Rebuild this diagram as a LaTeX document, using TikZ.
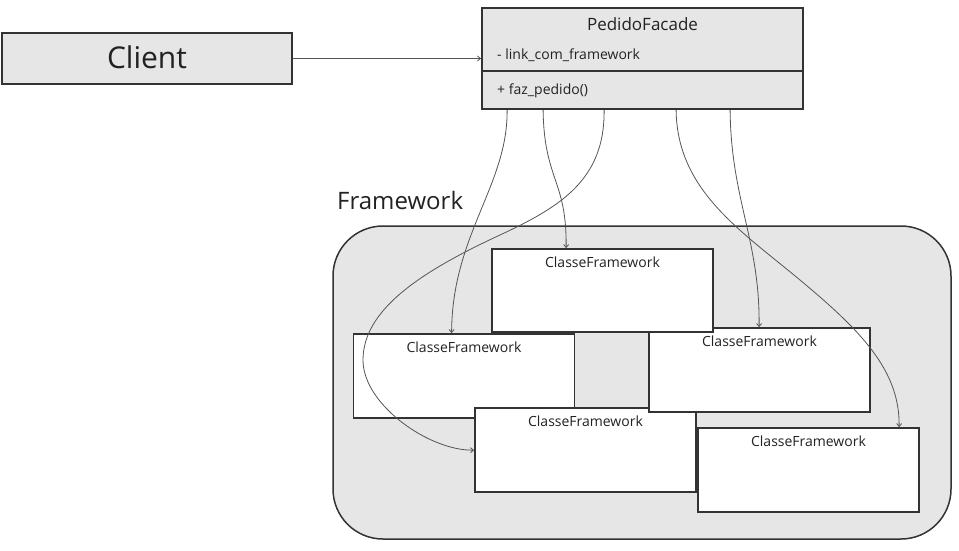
\documentclass[tikz,border=0pt]{standalone}
\usepackage{fontspec}
\setmainfont{Open Sans}
\usetikzlibrary{arrows.meta}
\definecolor{boxfill}{HTML}{E6E6E6}
\definecolor{edge}{HTML}{333333}
\definecolor{wire}{HTML}{555555}
\definecolor{ink}{HTML}{222222}
\tikzset{
  graybox/.style={draw=edge, fill=boxfill, line width=1.8pt, inner sep=0pt},
  classbox/.style={draw=edge, fill=white, line width=1.8pt, inner sep=0pt, minimum width=221pt, minimum height=84pt},
  container/.style={draw=edge, fill=boxfill, line width=1.5pt, rounded corners=50pt, inner sep=0pt},
  txt14/.style={inner sep=0pt, text=ink, font=\fontsize{14}{17}\selectfont},
  conn/.style={draw=wire, line width=0.8pt, -{Straight Barb[length=3pt,width=5pt]}}
}
\begin{document}
\begin{tikzpicture}[x=1pt,y=-1pt]
\useasboundingbox (0,0) rectangle (959,550);
% Client
\node[graybox, minimum width=290pt, minimum height=51pt] (client) at (147,58.5) {};
\node[inner sep=0pt, anchor=base, text=ink, font=\fontsize{30}{36}\selectfont] (clientt) at (147,68.5) {Client};
% Facade
\node[graybox, minimum width=321pt, minimum height=101pt] (facade) at (642.5,58.5) {};
\draw[edge, line width=1.2pt] (482,71) -- (803,71);
\node[inner sep=0pt, anchor=base, text=ink, font=\fontsize{17}{20}\selectfont] (facadet) at (642.5,30.5) {PedidoFacade};
\node[txt14, anchor=base west] (attr) at (497,59.5) {- link\_com\_framework};
\node[txt14, anchor=base west] (meth) at (497,94) {+ faz\_pedido()};
% Framework container
\node[inner sep=0pt, anchor=base west, text=ink, font=\fontsize{24}{29}\selectfont] (fwt) at (337,209.5) {Framework};
\node[container, minimum width=618pt, minimum height=313pt] (fw) at (642,382.5) {};
% Classes
\node[classbox] (b2) at (464,376) {};
\node[classbox] (b4) at (585.5,450) {};
\node[classbox] (b3) at (759.5,370) {};
\node[classbox, minimum height=83pt] (b1) at (602.5,290.5) {};
\node[classbox] (b5) at (808.5,470) {};
\foreach \b in {b1,b2,b3,b4,b5}{
  \node[txt14, anchor=base] (\b t) at ([yshift=-19pt]\b.north) {ClasseFramework};
}
% Connectors
\draw[conn] (client.east) -- (facade.west);
\draw[conn] ([xshift=26pt]facade.south west) .. controls (508,185) and (452,235) .. ([xshift=99pt]b2.north west);
\draw[conn] ([xshift=62pt]facade.south west) .. controls (544,180) and (567,180) .. ([xshift=75pt]b1.north west);
\draw[conn] ([xshift=123pt]facade.south west) .. controls (605,180) and (560,207) .. (500,235)
  .. controls (420,272) and (363,310) .. (363,360)
  .. controls (363,405) and (430,451) .. ([yshift=-43pt]b4.north west);
\draw[conn] ([xshift=195pt]facade.south west) .. controls (677,190) and (740,230) .. (800,280)
  .. controls (860,330) and (900,370) .. ([xshift=202pt]b5.north west);
\draw[conn] ([xshift=249pt]facade.south west) .. controls (731,200) and (760,240) .. ([xshift=111pt]b3.north west);
\end{tikzpicture}
\end{document}
